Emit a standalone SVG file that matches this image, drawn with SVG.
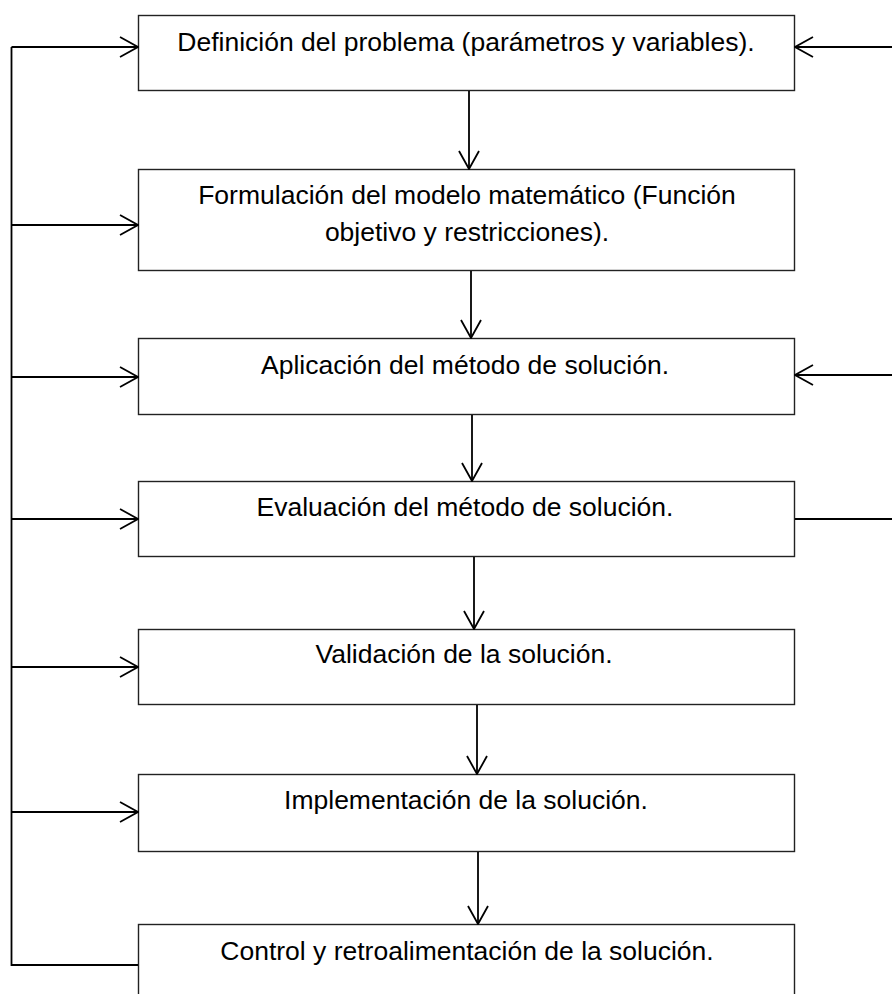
<svg xmlns="http://www.w3.org/2000/svg" width="892" height="994" viewBox="0 0 892 994">
<defs>
<marker id="open" viewBox="0 0 20 22" markerWidth="20" markerHeight="22" refX="19" refY="11" orient="auto" markerUnits="userSpaceOnUse">
<path d="M1,1 L19,11 L1,21" fill="none" stroke="#000" stroke-width="1.8"/>
</marker>
<style>
.box{fill:#fff;stroke:#222;stroke-width:1.4}
.lbl{font-family:"Liberation Sans",Arial,sans-serif;font-size:26.5px;fill:#000;text-anchor:middle}
.c{fill:none;stroke:#000;stroke-width:1.8}
.a{marker-end:url(#open)}
</style>
</defs>
<rect width="892" height="994" fill="#fff"/>
<g id="n1"><rect class="box" x="138.5" y="15.5" width="656" height="75"/><text class="lbl" x="466" y="51">Definición del problema (parámetros y variables).</text></g>
<g id="n2"><rect class="box" x="138.5" y="169.5" width="656" height="101"/><text class="lbl" x="467" y="204">Formulación del modelo matemático (Función</text><text class="lbl" x="467" y="241">objetivo y restricciones).</text></g>
<g id="n3"><rect class="box" x="138.5" y="338.5" width="656" height="76"/><text class="lbl" x="465" y="374">Aplicación del método de solución.</text></g>
<g id="n4"><rect class="box" x="138.5" y="481.5" width="656" height="75"/><text class="lbl" x="465" y="516">Evaluación del método de solución.</text></g>
<g id="n5"><rect class="box" x="138.5" y="629.5" width="656" height="75"/><text class="lbl" x="464" y="663">Validación de la solución.</text></g>
<g id="n6"><rect class="box" x="138.5" y="774.5" width="656" height="77"/><text class="lbl" x="466" y="809">Implementación de la solución.</text></g>
<g id="n7"><rect class="box" x="138.5" y="924.5" width="656" height="80"/><text class="lbl" x="467" y="960">Control y retroalimentación de la solución.</text></g>
<g id="connectors">
<path class="c a" d="M469,91 V169"/>
<path class="c a" d="M471,271 V338"/>
<path class="c a" d="M472,415 V481"/>
<path class="c a" d="M474,557 V629"/>
<path class="c a" d="M477,705 V774"/>
<path class="c a" d="M478,852 V924"/>
<path class="c" d="M138,965 H11.5 V47"/>
<path class="c a" d="M11.5,47 H138"/>
<path class="c a" d="M11.5,225 H138"/>
<path class="c a" d="M11.5,377 H138"/>
<path class="c a" d="M11.5,519 H138"/>
<path class="c a" d="M11.5,667 H138"/>
<path class="c a" d="M11.5,812 H138"/>
<path class="c a" d="M892,47 H795"/>
<path class="c a" d="M892,375 H795"/>
<path class="c" d="M795,519 H892"/>
</g>
</svg>
